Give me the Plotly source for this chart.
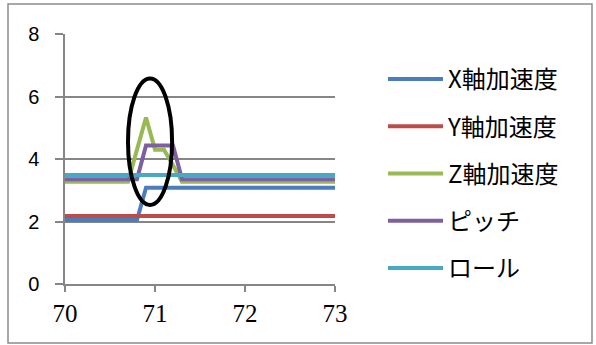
import plotly.graph_objects as go

t = [70.0, 70.7, 70.8, 70.9, 71.0, 71.1, 71.2, 71.3, 73.0]
x_acc = [2.05, 2.05, 2.05, 3.08, 3.08, 3.08, 3.08, 3.08, 3.08]
y_acc = [2.18, 2.18, 2.18, 2.18, 2.18, 2.18, 2.18, 2.18, 2.18]
z_acc = [3.27, 3.27, 4.30, 5.33, 4.30, 4.30, 3.80, 3.27, 3.27]
pitch = [3.35, 3.35, 3.35, 4.43, 4.43, 4.43, 4.43, 3.35, 3.35]
roll = [3.49, 3.49, 3.49, 3.49, 3.49, 3.49, 3.49, 3.49, 3.49]

names = ["X軸加速度", "Y軸加速度", "Z軸加速度", "ピッチ", "ロール"]
series = [x_acc, y_acc, z_acc, pitch, roll]
colors = ["#4A7EBB", "#BE4B48", "#98B954", "#7D60A0", "#46AAC5"]

x_ticks = [70, 71, 72, 73]
y_ticks = [0, 2, 4, 6, 8]

fig = go.Figure()
for n, s, c in zip(names, series, colors):
    fig.add_trace(go.Scatter(x=t, y=s, name=n, mode="lines",
                             line=dict(color=c, width=4), legendgroup=n))

W, H = 596, 345
L, R, T, B = 65, 335, 34, 284
pw, ph = R - L, B - T

def px(xp):
    return (xp - L) / pw

def py(yp):
    return (B - yp) / ph

fig.add_shape(type="rect", xref="paper", yref="paper",
              x0=px(8), x1=px(592), y0=py(343), y1=py(4),
              line=dict(color="#8C8C8C", width=1.5), layer="below")

fig.add_shape(type="circle", xref="x", yref="y",
              x0=70.70, x1=71.19, y0=2.53, y1=6.58,
              line=dict(color="black", width=4))

fig.update_layout(
    width=W, height=H,
    margin=dict(l=L, r=W - R, t=T, b=H - B),
    paper_bgcolor="white", plot_bgcolor="white",
    showlegend=True,
    legend=dict(x=px(383), y=py(57), xanchor="left", yanchor="top",
                font=dict(family="Noto Sans CJK JP", size=24, color="black"),
                tracegroupgap=13, itemwidth=55, bgcolor="rgba(0,0,0,0)"),
)
fig.update_xaxes(range=[70, 73], tickvals=x_ticks, showgrid=False,
                 showline=True, linecolor="#868686", linewidth=1.5,
                 ticks="outside", ticklen=6, tickcolor="#868686", tickwidth=1.5,
                 tickfont=dict(family="Liberation Serif", size=25, color="black"),
                 zeroline=False)
fig.update_yaxes(range=[0, 8], tickvals=y_ticks, showgrid=True,
                 gridcolor="#868686", gridwidth=1.5,
                 showline=True, linecolor="#868686", linewidth=1.5,
                 ticks="outside", ticklen=8, tickcolor="#868686", tickwidth=1.5,
                 tickfont=dict(family="Liberation Sans", size=20, color="black"),
                 ticklabelstandoff=12, zeroline=False)

fig.write_html("out.html")
